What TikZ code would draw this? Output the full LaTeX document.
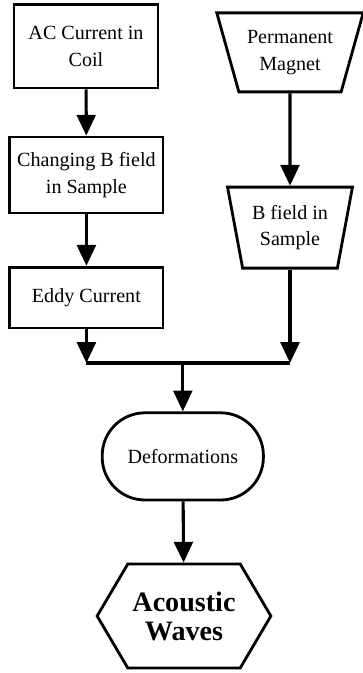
\documentclass[tikz,border=0pt]{standalone}
\usepackage{fontspec}
\setmainfont{Liberation Serif}
\usepackage{tikz}
\usetikzlibrary{shapes.geometric,shapes.symbols,arrows.meta}

\begin{document}
\begin{tikzpicture}[
    blk/.style={draw, line width=2pt, align=center, font=\fontsize{14.3}{19}\selectfont},
    trap/.style={blk, trapezium, shape border rotate=180, trapezium stretches=true},
    arr/.style={line width=2.2pt, -{Triangle[width=4.7mm,length=5.2mm]}},
    flow/.style={line width=2.2pt}
]
\useasboundingbox (0,0) rectangle (9.075,-16.825);

% left column
\node[blk, minimum width=3.6cm, minimum height=2.08cm] (coil) at (2.15,-1.16) {AC Current in\\Coil};
\node[blk, minimum width=3.83cm, minimum height=1.9cm] (bvar) at (2.16,-4.375) {Changing B field\\in Sample};
\node[blk, minimum width=3.83cm, minimum height=1.52cm] (eddy) at (2.16,-7.44) {Eddy Current};

% right column
\node[trap, trapezium left angle=69, trapezium right angle=69,
      minimum width=3.66cm, minimum height=1.975cm] (magnet) at (7.25,-1.31) {Permanent\\Magnet};
\node[trap, trapezium left angle=76, trapezium right angle=76,
      minimum width=3.15cm, minimum height=2.025cm] (bsamp) at (7.25,-5.69) {B field in\\Sample};

% joined part
\coordinate (join) at (4.57,-9.075);
\node[blk, rounded corners=1.07cm, minimum width=4.03cm, minimum height=2.18cm] (deform) at (4.57,-11.41) {Deformations};
\node[blk, signal, signal to=west and east, signal pointer angle=119,
      minimum width=4.3cm, minimum height=2.6cm, font=\fontsize{20}{20.6}\selectfont\bfseries] (waves) at (4.6,-15.4) {Acoustic\\Waves};

\draw[arr] (coil) -- (bvar);
\draw[arr] (bvar) -- (eddy);
\draw[arr] (magnet) -- (bsamp);
\draw[arr] (eddy.south) -- (eddy.south |- join);
\draw[arr] (bsamp.south) -- (bsamp.south |- join);
\draw[flow] (eddy.south |- join) -- (bsamp.south |- join);
\draw[arr] (join) -- (deform);
\draw[arr] (deform) -- (waves);
\end{tikzpicture}
\end{document}
